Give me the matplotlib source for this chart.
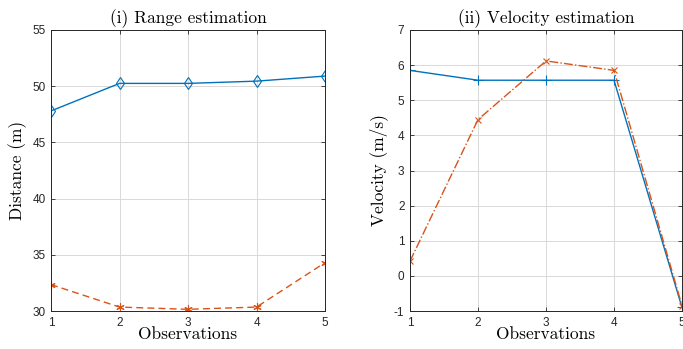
import matplotlib
matplotlib.use('Agg')
import matplotlib.pyplot as plt
import numpy as np

# podatki odčitani s slike
obs = [1, 2, 3, 4, 5]
range_blue = [47.8, 50.25, 50.25, 50.45, 50.9]
range_orange = [32.35, 30.35, 30.15, 30.35, 34.3]
vel_blue = [5.85, 5.57, 5.57, 5.57, -0.9]
vel_orange = [0.42, 4.45, 6.12, 5.85, -0.85]

modra = '#0072BD'
oranzna = '#D95319'

plt.rcParams['axes.unicode_minus'] = False
plt.rcParams['mathtext.fontset'] = 'cm'

fig = plt.figure(figsize=(6.83, 3.49), dpi=100)
ax1 = fig.add_axes([51 / 683, 1 - 311 / 349, 274 / 683, 281 / 349])
ax2 = fig.add_axes([410 / 683, 1 - 311 / 349, 272 / 683, 281 / 349])

ax1.plot(obs, range_blue, '-', color=modra, marker='d', mfc='none', ms=6, mew=0.8, lw=1)
ax1.plot(obs, range_orange, '--', color=oranzna, marker=(6, 2, 0), ms=6, mew=0.8, lw=1, dashes=(5, 3))
ax1.set_ylim(30, 55)
ax1.set_yticks([30, 35, 40, 45, 50, 55])

ax2.plot(obs, vel_blue, '-', color=modra, marker='+', ms=7, mew=0.8, lw=1)
ax2.plot(obs, vel_orange, '-.', color=oranzna, marker='x', ms=5, mew=0.8, lw=1)
ax2.set_ylim(-1, 7)
ax2.set_yticks(range(-1, 8))

serif = dict(family='cmr10', fontsize=12.5)
for ax, naslov, ylab in [(ax1, '(i) Range estimation', 'Distance (m)'),
                         (ax2, '(ii) Velocity estimation', 'Velocity (m/s)')]:
    ax.set_xlim(1, 5)
    ax.set_xticks(obs)
    ax.grid(True, color='#d9d9d9', lw=0.7)
    ax.set_axisbelow(True)
    ax.tick_params(direction='in', length=3, top=True, right=True, labelsize=8.5,
                   colors='#262626', width=0.6, pad=4)
    for lab in ax.get_xticklabels() + ax.get_yticklabels():
        lab.set_family('Liberation Sans')
    for s in ax.spines.values():
        s.set_color('#262626')
        s.set_linewidth(0.7)
    ax.set_title(naslov, pad=5, **serif)
    ax.set_xlabel('Observations', labelpad=-1, **serif)
    ax.set_ylabel(ylab, labelpad=4, **serif)

fig.savefig('out.png', dpi=100)
